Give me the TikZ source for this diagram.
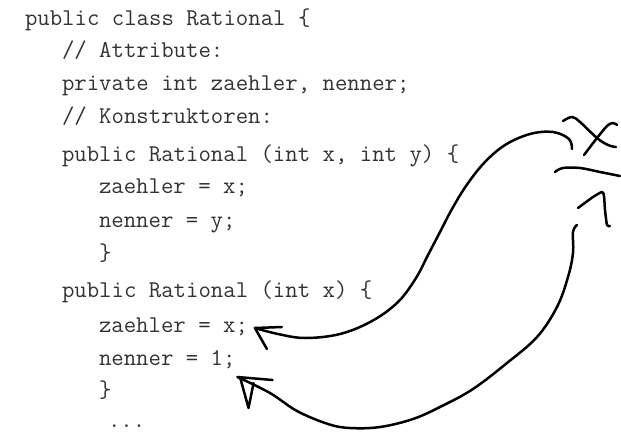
\documentclass[tikz,border=0pt]{standalone}
\usetikzlibrary{calc}
\begin{document}
\begin{tikzpicture}[x=1pt,y=-1pt,
  code/.style={anchor=base west,inner sep=0pt,outer sep=0pt,text=black!80,
    font=\ttfamily\fontsize{24.1}{28}\selectfont},
  pen/.style={line width=2.5pt,line cap=round,line join=round,black}]
\useasboundingbox (0,0) rectangle (621,434);

% Java source listing
\node[code] (l1)  at (25,25)  {public class Rational \{};
\node[code] (l2)  at (62,57)  {// Attribute:};
\node[code] (l3)  at (62,90)  {private int zaehler, nenner;};
\node[code] (l4)  at (62,123) {// Konstruktoren:};
\node[code] (l5)  at (62,161) {public Rational (int x, int y) \{};
\node[code] (l6)  at (99,193) {zaehler = x;};
\node[code] (l7)  at (99,227) {nenner = y;};
\node[code] (l8)  at (99,260) {\}};
\node[code] (l9)  at (62,297) {public Rational (int x) \{};
\node[code] (l10) at (99,332) {zaehler = x;};
\node[code] (l11) at (99,365) {nenner = 1;};
\node[code] (l12) at (99,397) {\}};
\node[code] (l13) at (108,427) {...};

% handwritten fraction x / 1
\draw[pen] plot[smooth,tension=0.6] coordinates
  {(563,121) (572,117) (580,122) (597,138) (608,145) (616,147)};
\draw[pen] plot[smooth,tension=0.6] coordinates
  {(584,155) (597,138) (607,126) (613,123) (617,125)};
\draw[pen] plot[smooth,tension=0.6] coordinates
  {(555,172) (563,168) (580,168) (600,172) (620,176)};
\draw[pen] plot[smooth,tension=0.4] coordinates
  {(578,208) (593,197) (602,192) (604,196) (605,210) (607,225) (610,226)};

% ends of the two hand-drawn arrows
\coordinate (numTop) at (572,149);
\coordinate (oneTop) at (577,225);
\coordinate (tipA) at ($(l10.base east)+(7,-4)$);
\coordinate (tipB) at ($(l11.base east)+(2,12)$);

% numerator x goes to zaehler
\draw[pen] plot[smooth,tension=0.6] coordinates
  {(numTop) (569,139) (553,132) (530,134) (505,145) (484,163) (466,186)
   (452,209) (440,232) (428,255) (416,278) (398,302) (372,321) (340,334)
   (305,338) (278,334) (tipA)};
\draw[pen] (tipA) -- ++(12,21);
\draw[pen] (tipA) -- ++(27,-1);

% denominator 1 goes to nenner
\draw[pen] plot[smooth,tension=0.6] coordinates
  {(oneTop) (573,232) (573,253) (568,277) (557,307) (537,337) (507,363)
   (473,389) (442,406) (413,419) (380,427) (350,428) (328,424) (297,411)
   (270,393) (tipB)};
\draw[pen] (tipB) -- ++(35,3);
\draw[pen] ($(tipB)+(3,2)$) -- ++(8,29) -- ++(5,-25);
\end{tikzpicture}
\end{document}
